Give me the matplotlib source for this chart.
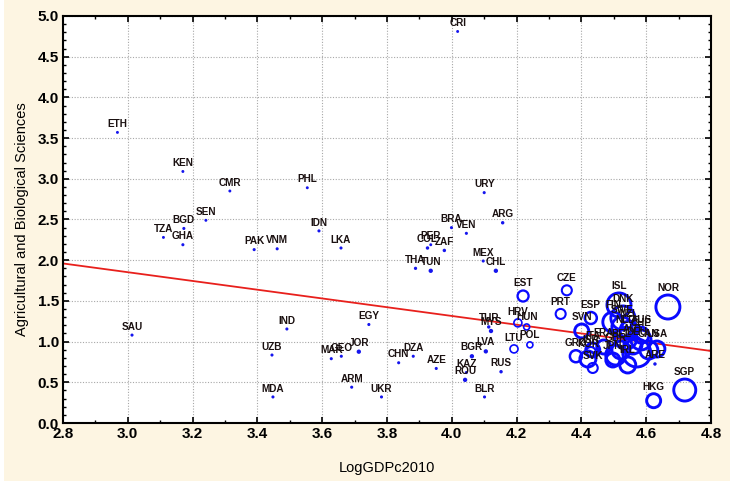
import numpy as np
import matplotlib.pyplot as plt
from matplotlib.patches import Rectangle
from matplotlib.ticker import MultipleLocator

# country codes, log GDP per capita, agri/bio score, bubble weight
codes = ['ETH', 'KEN', 'CMR', 'PHL', 'SEN', 'BGD', 'TZA', 'GHA', 'IDN', 'PAK',
         'VNM', 'LKA', 'CRI', 'URY', 'ARG', 'BRA', 'VEN', 'PER', 'COL', 'ZAF',
         'THA', 'TUN', 'MEX', 'CHL', 'SAU', 'IND', 'EGY', 'UZB', 'MAR', 'GEO',
         'JOR', 'CHN', 'DZA', 'AZE', 'UKR', 'ARM', 'MDA', 'BLR', 'KAZ', 'ROU',
         'BGR', 'LVA', 'RUS', 'TUR', 'MYS', 'LTU', 'HRV', 'HUN', 'POL', 'EST',
         'CZE', 'PRT', 'ESP', 'SVN', 'GRC', 'KOR', 'SVK', 'ISR', 'ITA', 'FRA',
         'ISL', 'DNK', 'FIN', 'SWE', 'NZL', 'NLD', 'AUS', 'CHE', 'AUT', 'BEL',
         'GBR', 'DEU', 'JPN', 'IRL', 'CAN', 'USA', 'ARE', 'NOR', 'HKG', 'SGP']
gdp = [2.968, 3.170, 3.315, 3.554, 3.241, 3.173, 3.110, 3.170, 3.590, 3.390,
       3.461, 3.658, 4.018, 4.100, 4.157, 3.999, 4.045, 3.935, 3.925, 3.977,
       3.888, 3.935, 4.097, 4.136, 3.013, 3.491, 3.744, 3.445, 3.628, 3.659,
       3.713, 3.836, 3.881, 3.952, 3.783, 3.691, 3.448, 4.101, 4.045, 4.041,
       4.062, 4.105, 4.152, 4.114, 4.121, 4.192, 4.204, 4.231, 4.241, 4.220,
       4.355, 4.336, 4.429, 4.401, 4.383, 4.420, 4.435, 4.429, 4.435, 4.469,
       4.516, 4.528, 4.497, 4.525, 4.547, 4.537, 4.584, 4.584, 4.559, 4.522,
       4.506, 4.571, 4.497, 4.543, 4.608, 4.633, 4.627, 4.667, 4.623, 4.719]
agri = [3.57, 3.09, 2.85, 2.89, 2.49, 2.39, 2.28, 2.19, 2.36, 2.13,
        2.14, 2.15, 4.81, 2.83, 2.46, 2.40, 2.33, 2.19, 2.15, 2.12,
        1.90, 1.87, 1.99, 1.87, 1.08, 1.155, 1.21, 0.835, 0.79, 0.82,
        0.876, 0.74, 0.82, 0.67, 0.32, 0.44, 0.32, 0.32, 0.62, 0.53,
        0.82, 0.88, 0.63, 1.18, 1.13, 0.91, 1.23, 1.18, 0.96, 1.56,
        1.63, 1.34, 1.29, 1.13, 0.82, 0.786, 0.676, 0.872, 0.897, 0.934,
        1.45, 1.29, 1.24, 1.18, 1.14, 1.04, 1.08, 1.02, 0.958, 0.897,
        0.835, 0.86, 0.774, 0.713, 0.897, 0.909, 0.725, 1.425, 0.274, 0.405]
weight = [1.2, 1.2, 1.2, 1.2, 1.2, 1.3, 1.2, 1.3, 1.3, 1.3,
          1.3, 1.3, 1.2, 1.3, 1.5, 1.3, 1.3, 1.2, 1.5, 1.5,
          1.4, 2.0, 1.3, 2.0, 1.3, 1.3, 1.3, 1.3, 1.3, 1.3,
          2.0, 1.3, 1.3, 1.3, 1.3, 1.3, 1.3, 1.3, 1.3, 2.0,
          2.0, 2.0, 1.5, 1.5, 2.0, 4.0, 4.0, 3.0, 3.0, 5.5,
          5.0, 5.0, 6.0, 7.0, 6.0, 8.0, 5.0, 5.0, 7.0, 7.0,
          12.0, 12.0, 10.0, 10.0, 9.0, 11.0, 8.0, 10.0, 9.0, 9.0,
          10.0, 14.0, 7.0, 8.0, 9.0, 8.0, 1.5, 12.0, 7.0, 11.0]

# fitted line
fit_intercept = 3.465
fit_slope = -0.5375

plt.rcParams['font.family'] = ['Liberation Sans', 'DejaVu Sans']

fig = plt.figure(figsize=(7.34, 4.86), dpi=100, facecolor='white')
fig.patches.append(Rectangle((4 / 734, 5 / 486), 726 / 734, 481 / 486,
                             transform=fig.transFigure, facecolor='#fdf5e2',
                             edgecolor='none', zorder=-1))
ax = fig.add_axes([63 / 734, 1 - 423 / 486, 648 / 734, 407 / 486])
ax.set_facecolor('white')

gdp_a = np.array(gdp)
agri_a = np.array(agri)
r_px = np.array(weight)
r_pt = r_px * 72 / 100
small = r_px < 2.5
big = ~small

# tiny filled dots for small weights, open rings for the rest
ax.scatter(gdp_a[small], agri_a[small], s=(2 * r_pt[small]) ** 2 + 1.5,
           color='#1515ee', linewidths=0, zorder=3)
ax.scatter(gdp_a[big], agri_a[big], s=(2 * r_pt[big]) ** 2,
           facecolors='none', edgecolors='#0a0aff',
           linewidths=np.clip(r_px[big] * 0.3, 1.2, 2.1), zorder=3)

for c, x, y, r in zip(codes, gdp, agri, r_pt):
    ax.annotate(c, (x, y), xytext=(0, r + 1.5), textcoords='offset points',
                ha='center', va='bottom', fontsize=7.2, fontweight='bold',
                color='#1a1010', zorder=4)

xs = np.array([2.8, 4.8])
ax.plot(xs, fit_intercept + fit_slope * xs, color='#e8201c', lw=1.3, zorder=2)

ax.set_xlim(2.8, 4.8)
ax.set_ylim(0, 5)
ax.xaxis.set_major_locator(MultipleLocator(0.2))
ax.xaxis.set_minor_locator(MultipleLocator(0.1))
ax.yaxis.set_major_locator(MultipleLocator(0.5))
ax.yaxis.set_minor_locator(MultipleLocator(0.1))
ax.xaxis.set_major_formatter(lambda v, p: f'{v:.1f}')
ax.yaxis.set_major_formatter(lambda v, p: f'{v:.1f}')
ax.tick_params(which='both', direction='in', top=True, right=True,
               colors='black')
ax.tick_params(which='major', length=4, width=1.2, labelsize=11, pad=3)
ax.tick_params(which='minor', length=2.5, width=1)
for lab in ax.get_xticklabels() + ax.get_yticklabels():
    lab.set_fontweight('bold')
ax.grid(True, which='major', color='#a8a8a8', linestyle=(0, (1, 1.5)), lw=0.8)
for sp in ax.spines.values():
    sp.set_linewidth(1.5)

ax.set_xlabel('LogGDPc2010', fontsize=10.5, labelpad=14)
ax.set_ylabel('Agricultural and Biological Sciences', fontsize=10.5, labelpad=6)

fig.savefig('out.png', dpi=100, facecolor=fig.get_facecolor())
